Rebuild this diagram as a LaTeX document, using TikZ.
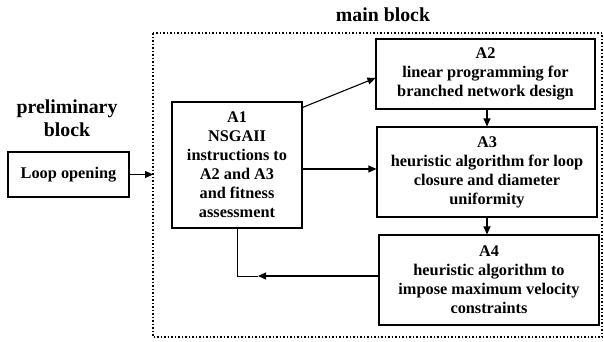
\documentclass[tikz,border=0pt]{standalone}
\usepackage{fontspec}
\setmainfont{Liberation Serif}
\usetikzlibrary{arrows.meta}
\begin{document}
\begin{tikzpicture}[x=1pt,y=-1pt,
  box/.style={draw,line width=1.1pt,align=center,inner sep=1pt,
    font=\fontsize{16.3}{19}\selectfont\bfseries},
  ttl/.style={align=center,font=\fontsize{19.8}{23}\selectfont\bfseries},
  arr/.style={line width=1.1pt,-{Triangle[length=8pt,width=7pt]}},
  ln/.style={line width=1pt}]
\useasboundingbox (0,0) rectangle (604,341);
\draw[line width=1.5pt,dotted] (153,33) rectangle (602,337);
\node[ttl] (mt) at (383,15) {main block};
\node[ttl] (pt) at (67,118) {preliminary\\block};
\node[box,minimum width=121pt,minimum height=45pt] (lo) at (68.5,174.5) {Loop opening};
\node[box,minimum width=130pt,minimum height=126pt] (a1) at (237,165) {A1\\NSGAII\\instructions to\\A2 and A3\\and fitness\\assessment};
\node[box,minimum width=219pt,minimum height=70pt] (a2) at (485.5,74) {A2\\linear programming for\\branched network design};
\node[box,minimum width=220pt,minimum height=90pt] (a3) at (487,172) {A3\\heuristic algorithm for loop\\closure and diameter\\uniformity};
\node[box,minimum width=220pt,minimum height=90pt] (a4) at (489,280) {A4\\heuristic algorithm to\\impose maximum velocity\\constraints};
\coordinate (fl) at (153,174.5);
\coordinate (fb) at (258,276);
\coordinate (fc) at (237,276);
\draw[arr] (lo.east) -- (fl);
\draw[arr] ([yshift=-6pt]a1.north east) -- ([yshift=-4pt]a2.west);
\draw[arr] ([yshift=-4pt]a1.east) -- ([yshift=-4pt]a1.east -| a3.west);
\draw[arr] (a2.south -| 487,0) -- (a3.north -| 487,0);
\draw[arr] (a3.south -| 487,0) -- (a4.north -| 487,0);
\draw[arr] (a4.west |- fb) -- (fb);
\draw[ln] (fb) -- (fc) -- (a1.south);
\end{tikzpicture}
\end{document}
